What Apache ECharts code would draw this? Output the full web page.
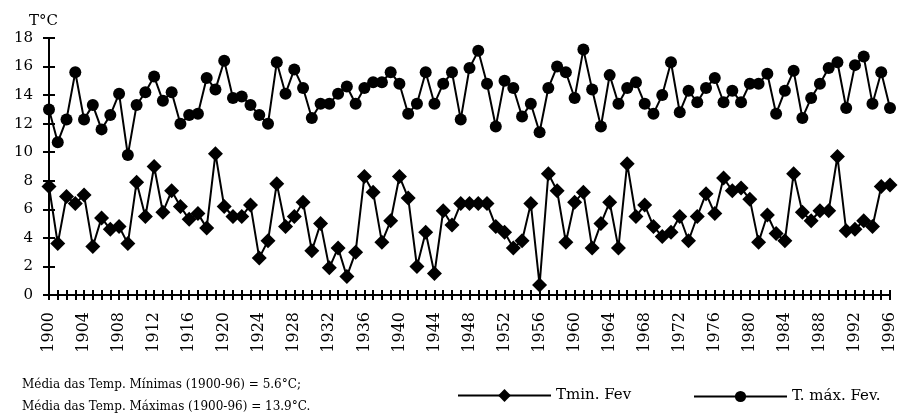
<!DOCTYPE html>
<html>
<head>
<meta charset="utf-8">
<script src="https://cdn.jsdelivr.net/npm/echarts@6/dist/echarts.min.js"></script>
<style>
  html, body { margin: 0; padding: 0; background: #fff; }
  #tempChart { width: 901px; height: 418px; }
</style>
</head>
<body>
<div id="tempChart"></div>
<script>
// anos 1900-1996
const years = [];
for (let y = 1900; y <= 1996; y++) years.push(String(y));

// temperatura minima de fevereiro
const tMin = [
  7.6, 3.6, 6.9, 6.4, 7.0, 3.4, 5.4, 4.6, 4.8, 3.6,
  7.9, 5.5, 9.0, 5.8, 7.3, 6.2, 5.3, 5.7, 4.7, 9.9,
  6.2, 5.5, 5.5, 6.3, 2.6, 3.8, 7.8, 4.8, 5.5, 6.5,
  3.1, 5.0, 1.9, 3.3, 1.3, 3.0, 8.3, 7.2, 3.7, 5.2,
  8.3, 6.8, 2.0, 4.4, 1.5, 5.9, 4.9, 6.4, 6.4, 6.4,
  6.4, 4.8, 4.4, 3.3, 3.8, 6.4, 0.7, 8.5, 7.3, 3.7,
  6.5, 7.2, 3.3, 5.0, 6.5, 3.3, 9.2, 5.5, 6.3, 4.8,
  4.1, 4.4, 5.5, 3.8, 5.5, 7.1, 5.7, 8.2, 7.3, 7.5,
  6.7, 3.7, 5.6, 4.3, 3.8, 8.5, 5.8, 5.2, 5.9, 5.9,
  9.7, 4.5, 4.6, 5.2, 4.8, 7.6, 7.7
];

// temperatura maxima de fevereiro
const tMax = [
  13.0, 10.7, 12.3, 15.6, 12.3, 13.3, 11.6, 12.6, 14.1, 9.8,
  13.3, 14.2, 15.3, 13.6, 14.2, 12.0, 12.6, 12.7, 15.2, 14.4,
  16.4, 13.8, 13.9, 13.3, 12.6, 12.0, 16.3, 14.1, 15.8, 14.5,
  12.4, 13.4, 13.4, 14.1, 14.6, 13.4, 14.5, 14.9, 14.9, 15.6,
  14.8, 12.7, 13.4, 15.6, 13.4, 14.8, 15.6, 12.3, 15.9, 17.1,
  14.8, 11.8, 15.0, 14.5, 12.5, 13.4, 11.4, 14.5, 16.0, 15.6,
  13.8, 17.2, 14.4, 11.8, 15.4, 13.4, 14.5, 14.9, 13.4, 12.7,
  14.0, 16.3, 12.8, 14.3, 13.5, 14.5, 15.2, 13.5, 14.3, 13.5,
  14.8, 14.8, 15.5, 12.7, 14.3, 15.7, 12.4, 13.8, 14.8, 15.9,
  16.3, 13.1, 16.1, 16.7, 13.4, 15.6, 13.1
];

const notes = [
  'Média das Temp. Mínimas (1900-96) = 5.6°C;',
  'Média das Temp. Máximas (1900-96) = 13.9°C.'
];

const serif = 'DejaVu Serif';

const chart = echarts.init(document.getElementById('tempChart'));

const option = {
  animation: false,
  backgroundColor: '#fff',
  textStyle: { fontFamily: serif, color: '#000' },
  title: {
    text: 'T°C',
    left: 24,
    top: 9,
    textStyle: { fontFamily: serif, fontSize: 15, fontWeight: 'normal', color: '#000' }
  },
  grid: {
    left: 49, right: 11, top: 38, bottom: 123,
    containLabel: false, outerBoundsMode: 'none'
  },
  legend: [
    {
      data: ['Tmin. Fev'],
      left: 452, top: 383, padding: 5,
      itemWidth: 93, itemHeight: 16, itemGap: 8,
      textStyle: { fontFamily: serif, fontSize: 15, color: '#000' }
    },
    {
      data: ['T. máx. Fev.'],
      left: 688, top: 384, padding: 5,
      itemWidth: 93, itemHeight: 14, itemGap: 8,
      textStyle: { fontFamily: serif, fontSize: 15, color: '#000' }
    }
  ],
  xAxis: [
    {
      type: 'category',
      data: years,
      boundaryGap: false,
      axisLine: { lineStyle: { color: '#000', width: 2 } },
      axisTick: { interval: 0, length: 5, lineStyle: { color: '#000', width: 2 } },
      axisLabel: {
        interval: 3, rotate: 90, margin: 17,
        fontFamily: serif, fontSize: 16, color: '#000'
      },
      splitLine: { show: false }
    },
    {
      type: 'category',
      data: years,
      boundaryGap: false,
      position: 'bottom',
      axisLine: { show: false },
      axisTick: { inside: true, interval: 0, length: 5, lineStyle: { color: '#000', width: 2 } },
      axisLabel: { show: false },
      splitLine: { show: false }
    }
  ],
  yAxis: [
    {
      type: 'value',
      min: 0, max: 18, interval: 2,
      axisLine: { show: true, lineStyle: { color: '#000', width: 2 } },
      axisTick: { show: true, length: 6, lineStyle: { color: '#000', width: 2 } },
      axisLabel: { margin: 16, fontFamily: serif, fontSize: 15, color: '#000' },
      splitLine: { show: false }
    },
    {
      type: 'value',
      min: 0, max: 18, interval: 2,
      position: 'left',
      axisLine: { show: false },
      axisTick: { show: true, inside: true, length: 6, lineStyle: { color: '#000', width: 2 } },
      axisLabel: { show: false },
      splitLine: { show: false }
    }
  ],
  graphic: notes.map((t, i) => ({
    type: 'text',
    left: 22,
    top: 379 + i * 22,
    style: { text: t, font: '12px "DejaVu Serif"', fill: '#000' }
  })),
  series: [
    {
      name: 'Tmin. Fev',
      type: 'line',
      data: tMin,
      symbol: 'diamond',
      symbolSize: 15,
      showAllSymbol: true,
      itemStyle: { color: '#000' },
      lineStyle: { color: '#000', width: 2 }
    },
    {
      name: 'T. máx. Fev.',
      type: 'line',
      data: tMax,
      symbol: 'circle',
      symbolSize: 12,
      showAllSymbol: true,
      itemStyle: { color: '#000' },
      lineStyle: { color: '#000', width: 2 }
    }
  ]
};

chart.setOption(option);
</script>
</body>
</html>
